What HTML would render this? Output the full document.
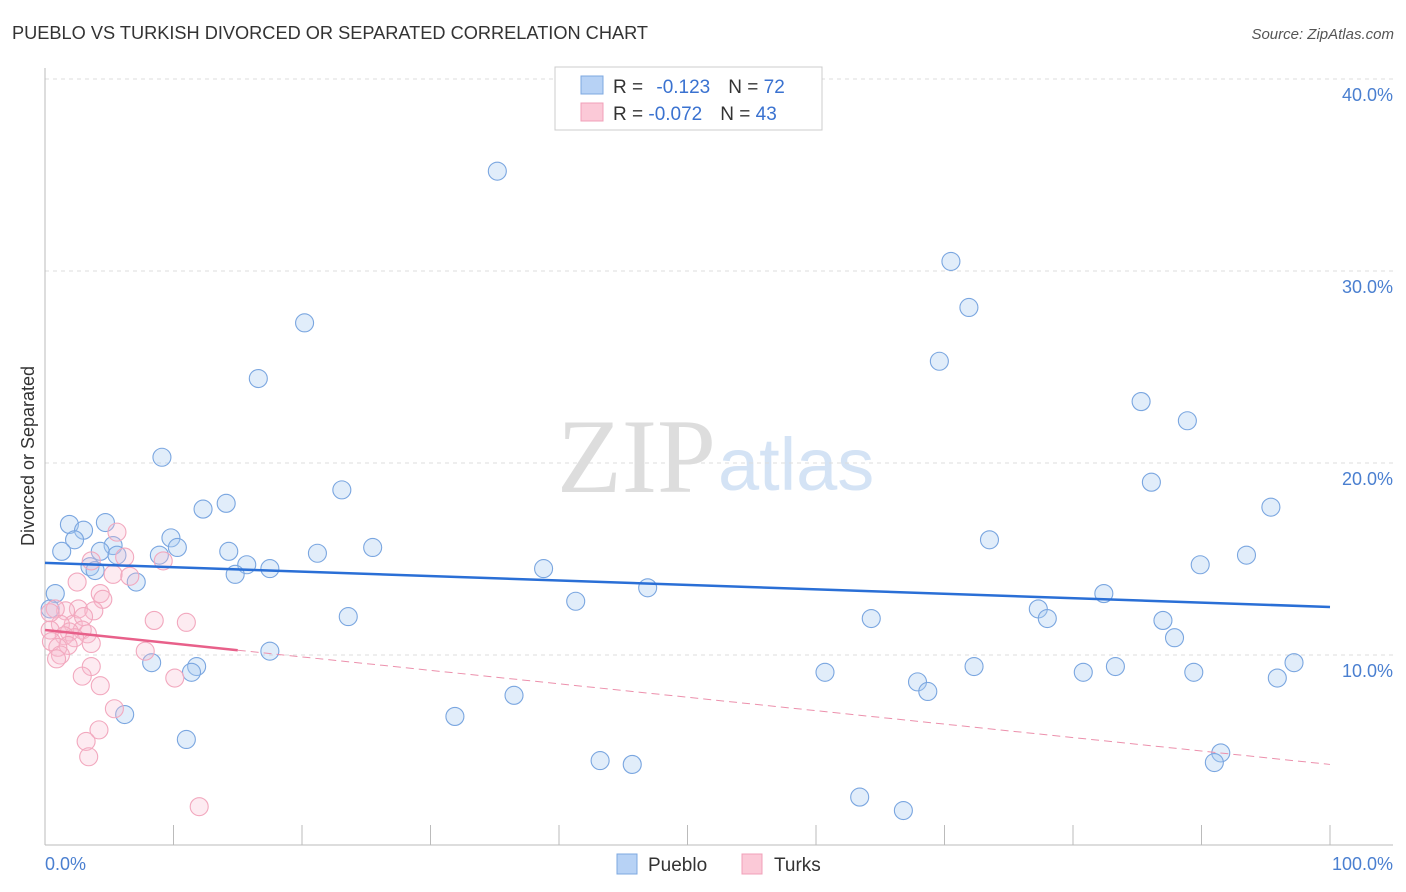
<!DOCTYPE html>
<html><head><meta charset="utf-8"><style>
body{margin:0;background:#fff;font-family:"Liberation Sans",sans-serif}
</style></head><body>
<svg width="1406" height="892" style="display:block">
<text x="12" y="39" font-size="18.2" fill="#333">PUEBLO VS TURKISH DIVORCED OR SEPARATED CORRELATION CHART</text>
<text x="1394" y="39" font-size="15" fill="#555" text-anchor="end" font-style="italic">Source: ZipAtlas.com</text>
<text x="716" y="492" font-size="106" fill="#ddd" text-anchor="end" font-family="Liberation Serif">ZIP</text>
<text x="718" y="490" font-size="74" fill="#d4e3f5">atlas</text>
<g id="grid"></g>
<g id="marks"></g>
<text transform="translate(34,456) rotate(-90)" font-size="18" fill="#333" text-anchor="middle">Divorced or Separated</text>
<text x="45" y="870" font-size="18" fill="#4a7fd0">0.0%</text>
<text x="1393" y="870" font-size="18" fill="#4a7fd0" text-anchor="end">100.0%</text>
<g>
<rect x="555" y="67" width="267" height="63" fill="#fff" stroke="#ccc"/>
<rect x="581" y="76" width="22" height="18" fill="#b7d2f5" stroke="#7ea8e0"/>
<rect x="581" y="103" width="22" height="18" fill="#fbc9d7" stroke="#f0a0b8"/>
<text x="613" y="93" font-size="19" fill="#333">R = <tspan fill="#3a72d0" dx="8">-0.123</tspan><tspan dx="18" fill="#333">N = </tspan><tspan fill="#3a72d0">72</tspan></text>
<text x="613" y="120" font-size="19" fill="#333">R = <tspan fill="#3a72d0">-0.072</tspan><tspan dx="18" fill="#333">N = </tspan><tspan fill="#3a72d0">43</tspan></text>
</g>
<g>
<rect x="617" y="854" width="20" height="20" fill="#b7d2f5" stroke="#7ea8e0"/>
<text x="648" y="871" font-size="19" fill="#333">Pueblo</text>
<rect x="742" y="854" width="20" height="20" fill="#fbc9d7" stroke="#f0a0b8"/>
<text x="774" y="871" font-size="19" fill="#333">Turks</text>
</g>
</svg>
<script>
const yTicks=[10,20,30,40];
const yTickLabels=["10.0%","20.0%","30.0%","40.0%"];
const xTicks=[0,10,20,30,40,50,60,70,80,90,100];
const puebloX=[35.2,70.5,71.9,20.2,69.6,16.6,85.3,88.9,9.1,23.1,86.1,14.1,12.3,95.4,1.9,3.0,4.7,2.3,9.8,73.5,10.3,1.3,14.3,21.2,25.5,5.3,8.9,4.3,5.6,93.5,15.7,17.5,14.8,38.8,89.9,3.5,3.9,7.1,46.9,0.8,82.4,41.3,0.4,77.3,78.0,23.6,64.3,87.0,87.9,17.5,8.3,11.8,11.4,72.3,83.3,97.2,60.7,80.8,89.4,67.9,95.9,68.7,36.5,6.2,31.9,11.0,91.5,91.0,43.2,45.7,63.4,66.8];
const puebloY=[35.2,30.5,28.1,27.3,25.3,24.4,23.2,22.2,20.3,18.6,19.0,17.9,17.6,17.7,16.8,16.5,16.9,16.0,16.1,16.0,15.6,15.4,15.4,15.3,15.6,15.7,15.2,15.4,15.2,15.2,14.7,14.5,14.2,14.5,14.7,14.6,14.4,13.8,13.5,13.2,13.2,12.8,12.4,12.4,11.9,12.0,11.9,11.8,10.9,10.2,9.6,9.4,9.1,9.4,9.4,9.6,9.1,9.1,9.1,8.6,8.8,8.1,7.9,6.9,6.8,5.6,4.9,4.4,4.5,4.3,2.6,1.9];
const turksX=[5.6,6.2,3.6,9.2,5.3,6.6,2.5,4.3,4.5,2.6,3.8,1.6,0.8,8.5,11.0,2.2,3.0,1.2,2.9,3.3,1.9,0.4,1.5,2.3,0.5,1.8,1.0,3.6,1.2,0.9,7.8,3.6,2.9,10.1,4.3,5.4,4.2,3.2,3.4,12.0,0.4];
const turksY=[16.4,15.1,14.9,14.9,14.2,14.1,13.8,13.2,12.9,12.4,12.3,12.3,12.4,11.8,11.7,11.6,12.0,11.6,11.3,11.1,11.2,11.3,11.0,10.9,10.7,10.5,10.4,10.6,10.0,9.8,10.2,9.4,8.9,8.8,8.4,7.2,6.1,5.5,4.7,2.1,12.2];
const puebloTrend=[14.8,12.5];
const turksTrend=[11.3,4.3];
const X=v=>45+v*12.85, Y=v=>847-v*19.2;
const NS="http://www.w3.org/2000/svg";
function mk(t,a,p){const e=document.createElementNS(NS,t);for(const k in a)e.setAttribute(k,a[k]);p.appendChild(e);return e;}
const g=document.getElementById('grid'), m=document.getElementById('marks');
yTicks.forEach((t,i)=>{
 const l=mk('line',{x1:45,x2:1393,y1:Y(t),y2:Y(t),stroke:'#ddd','stroke-dasharray':'4,4'},g);
 
 
 const tx=mk('text',{x:1393,y:Y(t)+22,'font-size':18,fill:'#4a7fd0','text-anchor':'end'},g);
 tx.textContent=yTickLabels[i];
 
 
});
mk('line',{x1:45,x2:45,y1:68,y2:845,stroke:'#bbb'},g);
mk('line',{x1:45,x2:1393,y1:845,y2:845,stroke:'#bbb'},g);
xTicks.forEach(t=>{
 const l=mk('line',{x1:X(t),x2:X(t),y1:825,y2:845,stroke:'#bbb'},g);
 
 
});
puebloX.forEach((x,i)=>{
 const c=mk('circle',{cx:X(x),cy:Y(puebloY[i]),r:9,fill:'rgba(170,202,242,0.35)',stroke:'#7aa6e0','stroke-width':1.1},m);
 
 
});
turksX.forEach((x,i)=>{
 const c=mk('circle',{cx:X(x),cy:Y(turksY[i]),r:9,fill:'rgba(250,190,208,0.3)',stroke:'#f2a8be','stroke-width':1.1},m);
 
 
});
const bl=mk('line',{x1:X(0),y1:Y(puebloTrend[0]),x2:X(100),y2:Y(puebloTrend[1]),stroke:'#2a6fd6','stroke-width':2.5},m);


const tAt=x=>turksTrend[0]+(turksTrend[1]-turksTrend[0])*x/100;
const pl=mk('line',{x1:X(0),y1:Y(tAt(0)),x2:X(15),y2:Y(tAt(15)),stroke:'#e8608a','stroke-width':2.5},m);


const pd=mk('line',{x1:X(15),y1:Y(tAt(15)),x2:X(100),y2:Y(tAt(100)),stroke:'#ec90ac','stroke-width':1,'stroke-dasharray':'8,5'},m);


</script>
</body></html>
